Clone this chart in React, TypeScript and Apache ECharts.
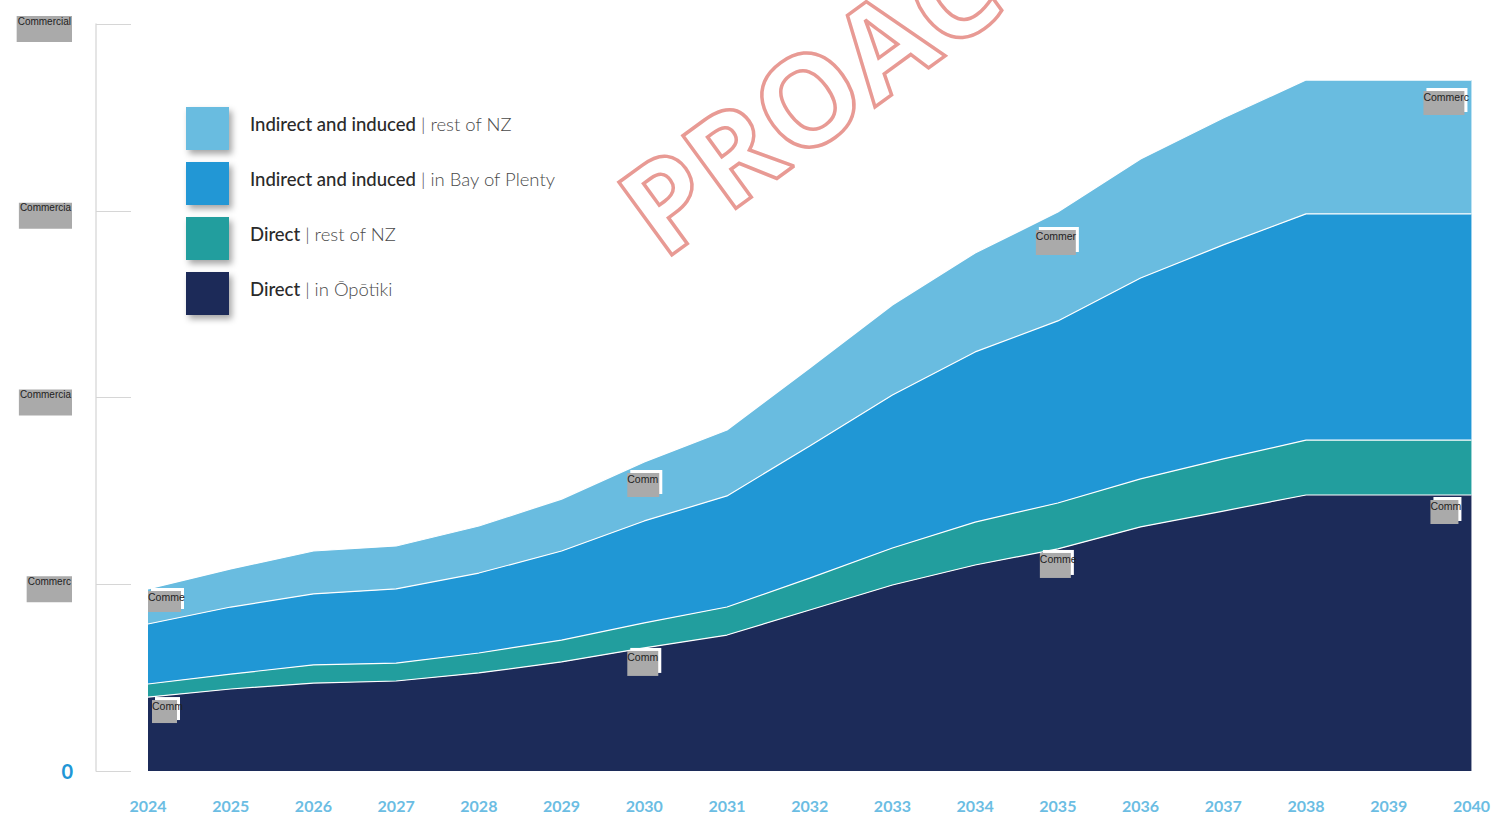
import React, { useEffect, useRef } from "react";
import * as echarts from "echarts";

const years = ["2024","2025","2026","2027","2028","2029","2030","2031","2032","2033","2034","2035","2036","2037","2038","2039","2040"];
const directOpotiki = [39.6,43.9,47.1,48.2,52.5,58.4,65.9,72.8,86.2,99.6,110.3,118.9,130.7,139.2,147.8,147.8,147.8];
const directRestNZ = [7.0,8.0,9.7,9.6,10.7,11.7,13.4,15.0,17.1,19.8,23.0,24.6,25.7,27.9,29.4,29.4,29.4];
const indirectBoP = [32.1,35.9,38.0,39.7,42.8,47.7,54.6,59.5,70.7,81.9,91.1,97.5,107.6,114.6,121.1,121.1,121.1];
const indirectRestNZ = [18.8,20.4,23.0,23.0,25.2,27.8,31.6,35.3,41.8,48.2,53.0,58.3,63.7,68.0,71.7,71.7,71.7];
const yTickLabels = ["0", "Commerc", "Commercia", "Commercia", "Commercial"];

const seriesNames = [
  "Direct | in Ōpōtiki",
  "Direct | rest of NZ",
  "Indirect and induced | in Bay of Plenty",
  "Indirect and induced | rest of NZ",
];
const colors = ["#1c2b59", "#229e9e", "#2097d5", "#69bce0"];

// redacted value labels: [index, text, width, height, dx, dy]
const lightLabels: [number, string, number, number, number, number][] = [
  [0, "Comme", 33, 21, 0, 2],
  [6, "Comm", 32, 24, -17, 11],
  [11, "Commer", 40, 25, -22, 18],
  [16, "Commerc", 41, 24, -48, 11],
];
const navyLabels: [number, string, number, number, number, number][] = [
  [0, "Comm", 25, 23, 4, 3],
  [6, "Comm", 31, 25, -17, 3],
  [11, "Comme", 31, 25, -18, 4],
  [16, "Comm", 28, 24, -41, 5],
];

function withLabels(values: number[], labels: [number, string, number, number, number, number][]) {
  return values.map((v, i) => {
    const l = labels.find((x) => x[0] === i);
    if (!l) return v;
    return {
      value: v,
      label: {
        show: true,
        formatter: l[1],
        position: "bottom",
        distance: 0,
        offset: [l[4], l[5]],
        align: "left",
        verticalAlign: "top",
        width: l[2],
        height: l[3],
        overflow: "none",
        fontFamily: "Liberation Sans, Arial, sans-serif",
        fontSize: 10.5,
        lineHeight: 12,
        color: "#222",
        backgroundColor: "#aaaaaa",
        shadowColor: "#ffffff",
        shadowBlur: 0,
        shadowOffsetX: 3,
        shadowOffsetY: -3,
      },
    };
  });
}

export default function App() {
  const ref = useRef<HTMLDivElement>(null);
  useEffect(() => {
    if (!ref.current) return;
    const chart = echarts.init(ref.current, undefined, { renderer: "svg" });
    const dataSets = [
      withLabels(directOpotiki, navyLabels),
      directRestNZ,
      indirectBoP,
      withLabels(indirectRestNZ, lightLabels),
    ];
    chart.setOption({
      animation: false,
      backgroundColor: "#ffffff",
      grid: { left: 148, right: 21, top: 24, bottom: 45 },
      graphic: [
        {
          type: "text",
          x: 634,
          y: 222,
          rotation: 0.63,
          z: 100,
          silent: true,
          style: {
            text: "PROAC",
            fontFamily: "Open Sans, sans-serif",
            fontWeight: 700,
            fontSize: 126,
            fill: "rgba(255,255,255,0)",
            stroke: "#e89a94",
            lineWidth: 3.5,
            align: "left",
            verticalAlign: "middle",
          },
        },
      ],
      legend: {
        orient: "vertical",
        left: 186,
        top: 107,
        padding: 0,
        itemWidth: 43,
        itemHeight: 43,
        itemGap: 12,
        icon: "rect",
        data: [seriesNames[3], seriesNames[2], seriesNames[1], seriesNames[0]],
        itemStyle: {
          shadowBlur: 6,
          shadowColor: "rgba(0,0,0,0.35)",
          shadowOffsetX: 3,
          shadowOffsetY: 4,
        },
        formatter: (name: string) => {
          const parts = name.split(" | ");
          return `{b|${parts[0]}}{l| | ${parts[1]}}`;
        },
        textStyle: {
          padding: [0, 0, 10, 16],
          rich: {
            b: { fontFamily: "Lato, sans-serif", fontSize: 18.5, fontWeight: 500, color: "#2a2a2a" },
            l: { fontFamily: "Lato, sans-serif", fontSize: 18.5, fontWeight: 300, color: "#4a4a4a" },
          },
        },
      },
      xAxis: {
        type: "category",
        data: years,
        boundaryGap: false,
        axisLine: { show: false },
        axisTick: { show: false },
        axisLabel: {
          color: "#6bbde3",
          fontFamily: "Lato, sans-serif",
          fontWeight: "bold",
          fontSize: 16,
          margin: 26,
        },
      },
      yAxis: {
        type: "value",
        min: 0,
        max: 400,
        interval: 100,
        offset: 52,
        axisLine: { show: true, lineStyle: { color: "#dddddd", width: 1.5 } },
        axisTick: { show: true, inside: true, length: 35, lineStyle: { color: "#d6d6d6", width: 1 } },
        splitLine: { show: false },
        axisLabel: {
          margin: 23,
          formatter: (_v: number, i: number) =>
            i === 0 ? `{z|${yTickLabels[0]}}` : `{c|${yTickLabels[i]}}{s| }`,
          rich: {
            z: { color: "#2196d6", fontSize: 20, fontWeight: "bold", fontFamily: "Lato, sans-serif" },
            c: {
              color: "#222",
              fontSize: 10,
              lineHeight: 12,
              fontFamily: "Liberation Sans, Arial, sans-serif",
              backgroundColor: "#aaaaaa",
              padding: [0, 1, 16, 1],
              verticalAlign: "bottom",
            },
            s: { width: 1, height: 36, lineHeight: 36, fontSize: 1 },
          },
        },
      },
      series: seriesNames.map((name, i) => ({
        name,
        type: "line",
        stack: "total",
        data: dataSets[i],
        symbol: "circle",
        symbolSize: 0,
        showSymbol: true,
        itemStyle: { color: colors[i] },
        lineStyle: { color: "#ffffff", width: 1.2 },
        areaStyle: { color: colors[i], opacity: 1 },
        emphasis: { disabled: true },
        z: 2,
      })),
    });
    return () => chart.dispose();
  }, []);
  return (
    <div
      ref={ref}
      style={{ position: "fixed", left: 0, top: 0, width: 1493, height: 816 }}
    />
  );
}
